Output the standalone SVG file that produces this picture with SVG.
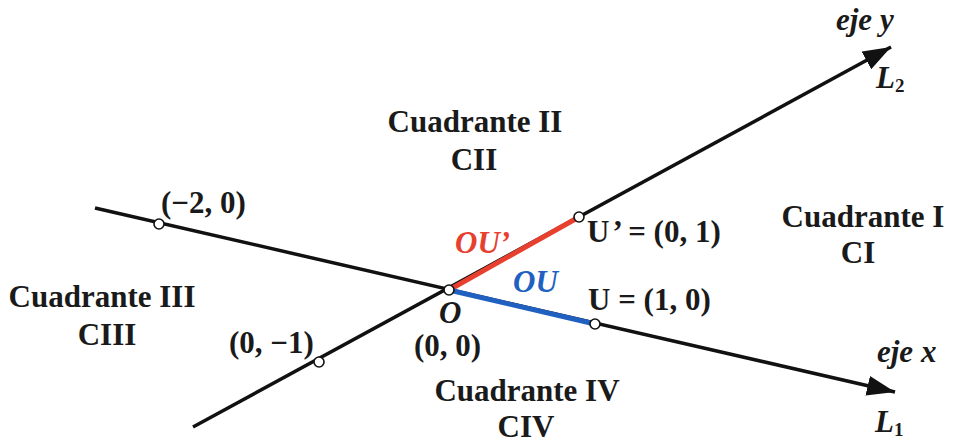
<svg xmlns="http://www.w3.org/2000/svg" width="953" height="445" viewBox="0 0 953 445">
<style>
text{font-family:"Liberation Serif","Times New Roman",serif;font-weight:bold;fill:#1a1a1a;font-size:31px}
.q{text-anchor:middle}
.it{font-style:italic}
.axis{stroke:#111;stroke-width:3.5;fill:none}
.pt{fill:#fff;stroke:#111;stroke-width:1.6}
</style>
<defs>
<marker id="arr" markerUnits="userSpaceOnUse" markerWidth="30" markerHeight="22" refX="28" refY="10" orient="auto">
<path d="M0,0 L28,10 L0,20 Z" fill="#111"/>
</marker>
</defs>
<g id="connectors">
<line class="axis" x1="95" y1="208" x2="895" y2="392" marker-end="url(#arr)"/>
<line class="axis" x1="193" y1="427" x2="891" y2="47" marker-end="url(#arr)"/>
<line x1="449" y1="290" x2="579" y2="217" stroke="#e8402e" stroke-width="5"/>
<line x1="449" y1="290" x2="595" y2="324" stroke="#2060c0" stroke-width="5"/>
</g>
<g id="points">
<circle class="pt" cx="159" cy="224" r="5"/>
<circle class="pt" cx="319" cy="362" r="5"/>
<circle class="pt" cx="449" cy="290" r="5"/>
<circle class="pt" cx="579" cy="217" r="5"/>
<circle class="pt" cx="595" cy="324" r="5"/>
</g>
<g id="axis-labels">
<text class="it" x="836" y="30">eje y</text>
<text x="876" y="88"><tspan class="it">L</tspan><tspan font-size="19" dy="4">2</tspan></text>
<text class="it" x="877" y="362">eje x</text>
<text x="875" y="432"><tspan class="it">L</tspan><tspan font-size="19" dy="4">1</tspan></text>
</g>
<g id="quadrants">
<text class="q" x="475" y="132">Cuadrante II</text>
<text class="q" x="474" y="170">CII</text>
<text class="q" x="863" y="227">Cuadrante I</text>
<text class="q" x="858" y="263">CI</text>
<text class="q" x="102" y="307">Cuadrante III</text>
<text class="q" x="107" y="345">CIII</text>
<text class="q" x="527" y="401">Cuadrante IV</text>
<text class="q" x="526" y="437">CIV</text>
</g>
<g id="point-labels">
<text x="161" y="213">(−2, 0)</text>
<text x="229" y="353">(0, −1)</text>
<text class="it" x="439" y="323">O</text>
<text x="414" y="356">(0, 0)</text>
<text x="587" y="242">U<tspan dx="3">’</tspan> = (0, 1)</text>
<text x="588" y="310">U = (1, 0)</text>
<text class="it" x="455" y="253" style="fill:#e8402e">OU’</text>
<text class="it" x="513" y="292" style="fill:#2060c0">OU</text>
</g>
</svg>
